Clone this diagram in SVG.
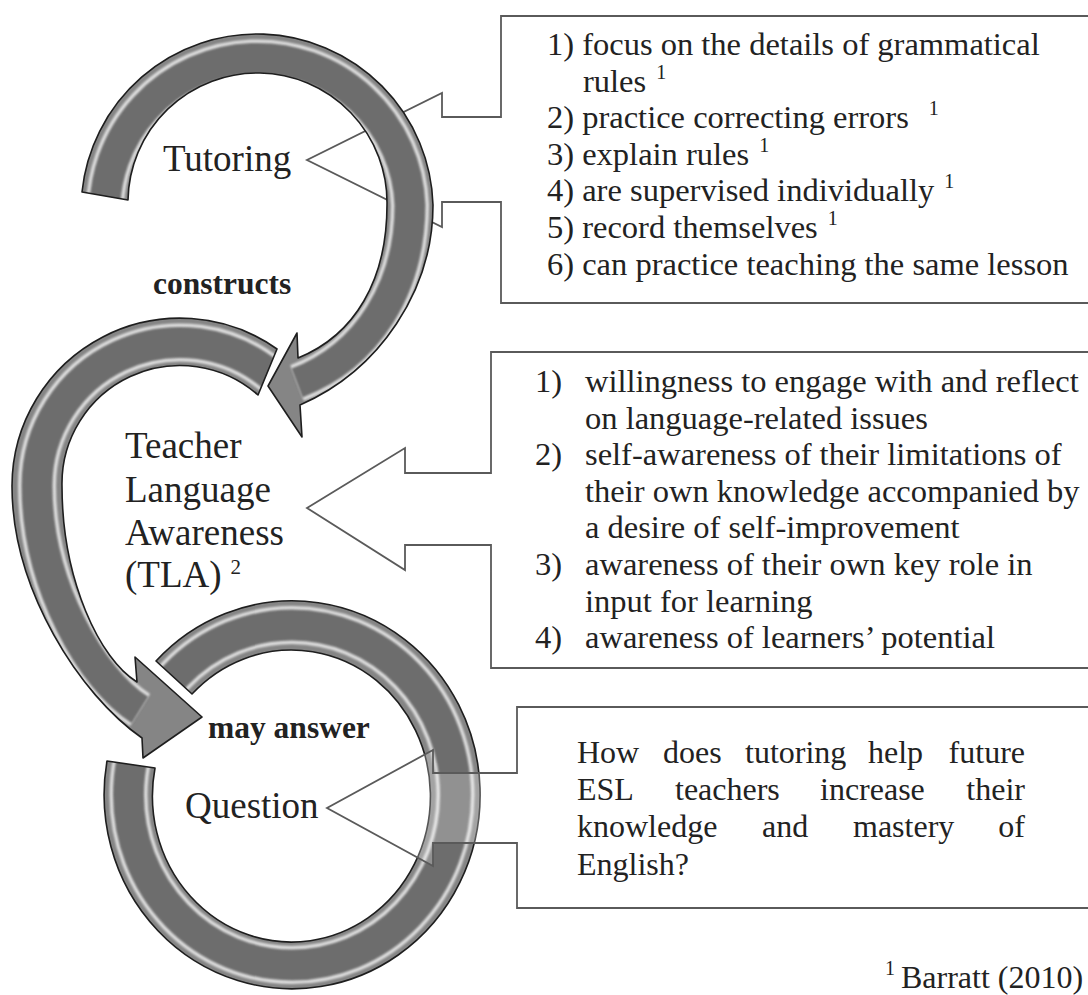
<svg xmlns="http://www.w3.org/2000/svg" width="1088" height="995" viewBox="0 0 1088 995">
<style>
.t{font-family:"Liberation Serif","Times New Roman",serif;fill:#222;}
.big{font-size:37px;}
.lbl{font-size:31.5px;font-weight:bold;}
.li{font-size:32.5px;}
.q{font-size:32px;}
.sup{font-size:20px;}
.callout{fill:#fff;stroke:#5a5a5a;stroke-width:1.8;}
.callout3{fill:#fff;fill-opacity:0.25;stroke:#5a5a5a;stroke-width:1.8;}
.ringbase{fill:#858585;}
.ringline{fill:none;stroke:#1e1e1e;stroke-width:1.6;stroke-linejoin:round;}
.band{fill:none;stroke:#dedede;stroke-width:38;filter:url(#soft);}
.body{fill:none;stroke:#6d6d6d;stroke-width:31;filter:url(#soft);}
</style>
<defs>
<filter id="soft" x="-10%" y="-10%" width="120%" height="120%"><feGaussianBlur stdDeviation="1.3"/></filter>
<path id="p1" d="M82,192 A176,176 0 0 1 433,205 C433,290 380,370 300,405 L302,437 L268,386 L297,333 L298,358 C355,335 387,280 387,205 A129,129 0 0 0 128,200 Z"/>
<path id="p2" d="M277,349 A168,168 0 0 0 12,486 C12,590 80,695 142,738 L143,758 L202,717 L135,657 L137,682 C100,660 62,580 62,486 A118,118 0 0 1 258,395 Z"/>
<path id="p3" d="M156,661 A188,194 0 1 1 107,761 L155,768 A139,146 0 1 0 192,694 Z"/>
<clipPath id="c1"><use href="#p1"/></clipPath>
<clipPath id="c2"><use href="#p2"/></clipPath>
<clipPath id="c3"><use href="#p3"/></clipPath>
</defs>
<rect width="1088" height="995" fill="#fff"/>

<g id="node-tutoring-list">
<path class="callout" d="M501,16 H1095 V303 H501 V202 H442 V227 L307,160 L442,93 V117 H501 Z"/>
<text class="t li" x="547" y="55">1) focus on the details of grammatical</text>
<text class="t li" x="583" y="91.6">rules<tspan class="sup" dx="10" dy="-13">1</tspan></text>
<text class="t li" x="547" y="128.2">2) practice correcting errors<tspan class="sup" dx="20" dy="-13">1</tspan></text>
<text class="t li" x="547" y="164.8">3) explain rules<tspan class="sup" dx="10" dy="-13">1</tspan></text>
<text class="t li" x="547" y="201.4">4) are supervised individually<tspan class="sup" dx="10" dy="-13">1</tspan></text>
<text class="t li" x="547" y="238">5) record themselves<tspan class="sup" dx="10" dy="-13">1</tspan></text>
<text class="t li" x="547" y="274.6">6) can practice teaching the same lesson</text>
</g>

<g id="node-tutoring">
<use href="#p1" class="ringbase"/>
<g clip-path="url(#c1)">
<path class="band" d="M105,217 A152.5,152.5 0 1 1 410,205 C410,287 368,356 297,383"/>
<path class="body" d="M105,217 A152.5,152.5 0 1 1 410,205 C410,287 368,356 297,383"/>
</g>
<use href="#p1" class="ringline"/>
<text class="t big" x="163" y="171">Tutoring</text>
</g>

<g id="node-tla">
<use href="#p2" class="ringbase"/>
<g clip-path="url(#c2)">
<path class="band" d="M272,376 A143,143 0 0 0 37,486 C37,585 92,680 140,710"/>
<path class="body" d="M272,376 A143,143 0 0 0 37,486 C37,585 92,680 140,710"/>
</g>
<use href="#p2" class="ringline"/>
<text class="t big" x="125" y="458">Teacher</text>
<text class="t big" x="125" y="502">Language</text>
<text class="t big" x="125" y="545">Awareness</text>
<text class="t big" x="125" y="587">(TLA)<tspan style="font-size:21px" dx="9" dy="-13">2</tspan></text>
</g>

<g id="node-tla-list">
<path class="callout" d="M491,352 H1095 V668 H491 V545 H405 V570 L307,508 L405,448 V473 H491 Z"/>
<text class="t li" x="535" y="392">1)</text><text class="t li" x="585" y="392">willingness to engage with and reflect</text>
<text class="t li" x="585" y="428.6">on language-related issues</text>
<text class="t li" x="535" y="465.2">2)</text><text class="t li" x="585" y="465.2">self-awareness of their limitations of</text>
<text class="t li" x="585" y="501.8">their own knowledge accompanied by</text>
<text class="t li" x="585" y="538.4">a desire of self-improvement</text>
<text class="t li" x="535" y="575">3)</text><text class="t li" x="585" y="575">awareness of their own key role in</text>
<text class="t li" x="585" y="611.6">input for learning</text>
<text class="t li" x="535" y="648.2">4)</text><text class="t li" x="585" y="648.2">awareness of learners’ potential</text>
</g>

<g id="node-question">
<use href="#p3" class="ringbase"/>
<g clip-path="url(#c3)">
<ellipse class="band" cx="292" cy="795" rx="163.5" ry="170"/>
<ellipse class="body" cx="292" cy="795" rx="163.5" ry="170"/>
</g>
<use href="#p3" class="ringline"/>
<text class="t big" x="185" y="818">Question</text>
</g>

<g id="node-question-text">
<path class="callout3" d="M517,707 H1095 V908 H517 V843 H433 V866 L327,808 L433,750 V773 H517 Z"/>
<g class="t q">
<text x="577" y="763">How</text><text x="663" y="763">does</text><text x="745" y="763">tutoring</text><text x="868" y="763">help</text><text x="1025" y="763" text-anchor="end">future</text>
<text x="577" y="800">ESL</text><text x="675" y="800">teachers</text><text x="820" y="800">increase</text><text x="1025" y="800" text-anchor="end">their</text>
<text x="577" y="837">knowledge</text><text x="762" y="837">and</text><text x="853" y="837">mastery</text><text x="1025" y="837" text-anchor="end">of</text>
<text x="577" y="875">English?</text>
</g>
</g>

<g id="connectors">
<text class="t lbl" x="153" y="294">constructs</text>
<text class="t lbl" x="208" y="738">may answer</text>
</g>

<g id="footnote">
<text class="t q" x="885" y="975"><tspan class="sup">1</tspan></text>
<text class="t q" x="901" y="988">Barratt (2010)</text>
</g>
</svg>
